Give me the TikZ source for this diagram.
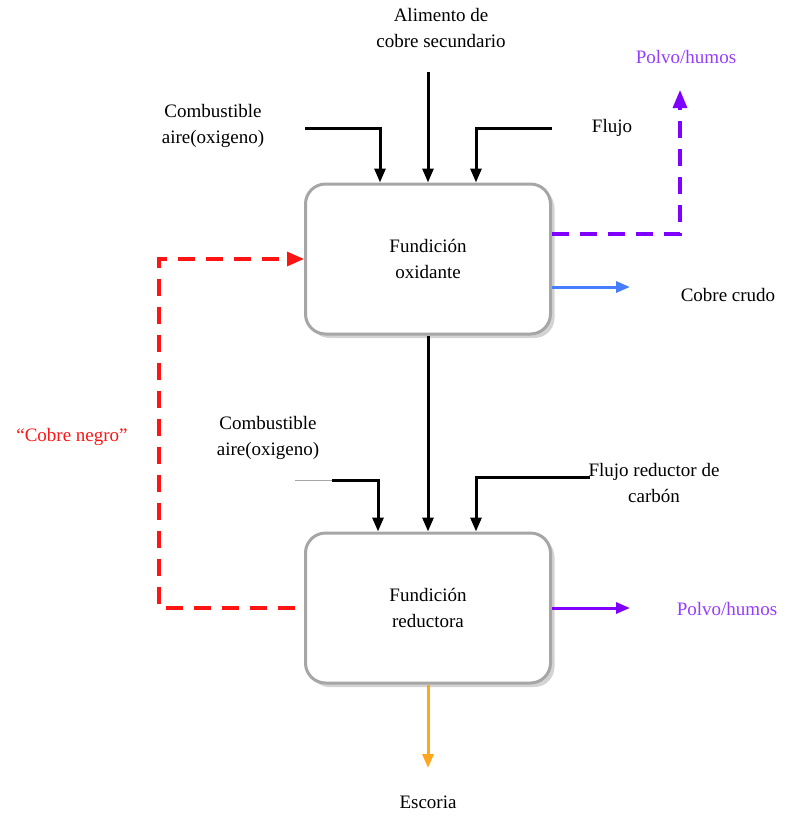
\documentclass[tikz,border=0pt]{standalone}
\usepackage{fontspec}
\setmainfont{Liberation Serif}
\usetikzlibrary{arrows.meta,shadows}
\definecolor{violeta}{RGB}{127,0,255}
\definecolor{violetatxt}{RGB}{150,60,255}
\definecolor{azul}{RGB}{70,125,255}
\definecolor{rojo}{RGB}{255,20,20}
\definecolor{naranja}{RGB}{255,165,30}
\begin{document}
\begin{tikzpicture}[x=1pt,y=-1pt,
    horno/.style={draw=gray!70,line width=3pt,fill=white,rounded corners=20pt,
        minimum width=245pt,minimum height=150pt,align=center,
        drop shadow={shadow xshift=4pt,shadow yshift=-4pt,opacity=0.35}},
    etiq/.style={align=center,font=\fontsize{19}{26}\selectfont},
    flecha/.style={line width=3pt,-{Triangle[length=14pt,width=11pt]}},
    discont/.style={line width=3.2pt,dash pattern=on 17pt off 11pt}]
        \useasboundingbox (0,0) rectangle (786,817);
        \node[horno,etiq] (ox) at (428,259) {Fundición\\oxidante};
        \node[horno,etiq] (re) at (428,608) {Fundición\\reductora};
        % textos
        \node[etiq] (alim) at (441,28) {Alimento de\\cobre secundario};
        \node[etiq] (comb1) at (213,126) {Combustible\\aire(oxigeno)};
        \node[etiq] (flujo) at (612,128) {Flujo};
        \node[etiq,text=violetatxt] (polvo1) at (686,57) {Polvo/humos};
        \node[etiq] (crudo) at (728,295) {Cobre crudo};
        \node[etiq,text=rojo] (negro) at (72,437) {“Cobre negro”};
        \node[etiq] (comb2) at (268,438) {Combustible\\aire(oxigeno)};
        \node[etiq] (flujo2) at (654,483) {Flujo reductor de\\carbón};
        \node[etiq,text=violetatxt] (polvo2) at (727,609) {Polvo/humos};
        \node[etiq] (escoria) at (428,802) {Escoria};
        % extremos libres
        \coordinate (a0) at (428,72);
        \coordinate (c1) at (305,128);
        \coordinate (f1) at (552,128);
        \coordinate (p1) at (680,90);
        \coordinate (b1) at (630,287);
        \coordinate (c2) at (332,480);
        \coordinate (c2a) at (295,480);
        \coordinate (f2) at (590,477);
        \coordinate (p2) at (630,608);
        \coordinate (e1) at (428,768);
        % entradas horno oxidante
        \draw[flecha] (a0) -- (ox.north);
        \draw[flecha] (c1) -| ([xshift=-48pt]ox.north);
        \draw[flecha] (f1) -| ([xshift=48pt]ox.north);
        % salidas horno oxidante
        \draw[discont,violeta,-{Triangle[length=18pt,width=14pt]}] ([yshift=25pt]ox.east) -| (p1);
        \draw[line width=3pt,azul,-{Triangle[length=14pt,width=11pt]}] ([yshift=-28pt]ox.east) -- (b1);
        \draw[flecha] (ox.south) -- (re.north);
        % entradas horno reductor
        \draw[gray!70,line width=1pt] (c2a) -- (c2);
        \draw[flecha] (c2) -| ([xshift=-50pt]re.north);
        \draw[flecha] (f2) -| ([xshift=48pt]re.north);
        % salidas horno reductor
        \draw[discont,rojo,-{Triangle[length=17pt,width=14pt]}] ([xshift=-9pt]re.west) -- ++(-136,0) |- (ox.west);
        \draw[line width=3pt,violeta,-{Triangle[length=14pt,width=11pt]}] (re.east) -- (p2);
        \draw[line width=3pt,naranja,-{Triangle[length=14pt,width=11pt]}] (re.south) -- (e1);
    \end{tikzpicture}
\end{document}
